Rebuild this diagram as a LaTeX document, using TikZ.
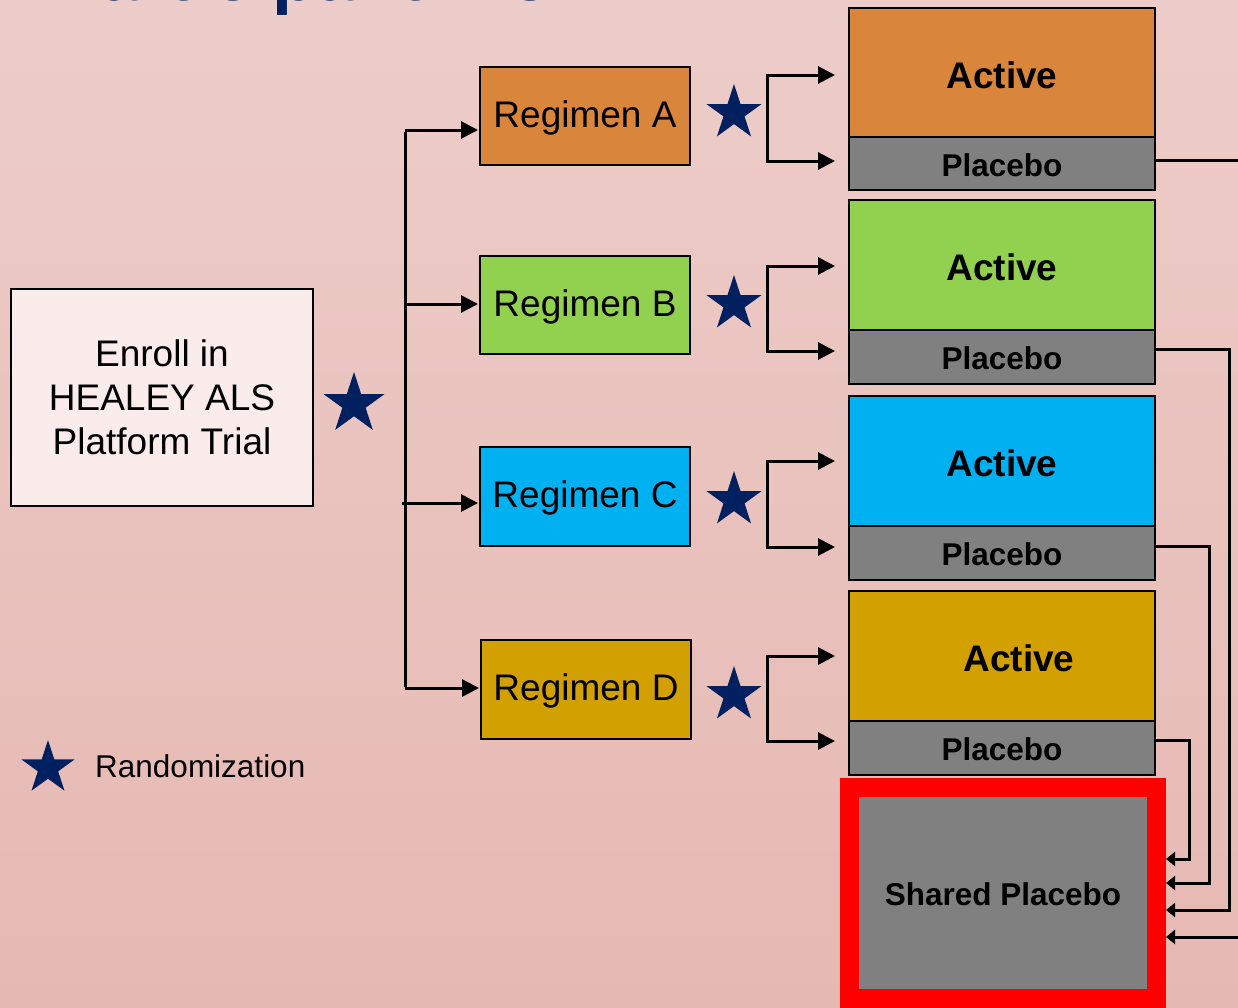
\documentclass[tikz,border=0pt]{standalone}
\usepackage{fontspec}
\setmainfont{Liberation Sans}
\usetikzlibrary{arrows.meta,shapes.geometric}
\definecolor{bgTop}{RGB}{237,205,201}
\definecolor{bgBot}{RGB}{230,184,178}
\definecolor{navy}{RGB}{0,32,96}
\definecolor{orangeA}{RGB}{217,133,59}
\definecolor{greenB}{RGB}{146,208,80}
\definecolor{blueC}{RGB}{0,176,240}
\definecolor{goldD}{RGB}{210,160,0}
\definecolor{grayP}{RGB}{128,128,128}
\definecolor{enrollFill}{RGB}{249,236,235}
\definecolor{redF}{RGB}{255,0,0}
\begin{document}
\begin{tikzpicture}[x=1pt,y=-1pt,
  box/.style={draw=black, line width=2pt, inner sep=0pt, outer sep=0pt, text=black},
  regbox/.style={box, minimum width=210pt, minimum height=98pt, font=\fontsize{37}{44}\selectfont, text height=22pt, text depth=0pt},
  actbox/.style={box, minimum width=306pt, minimum height=130pt, font=\bfseries\fontsize{37}{44}\selectfont, text height=31.5pt, text depth=0pt},
  plcbox/.style={box, fill=grayP, minimum width=306pt, minimum height=54pt, font=\bfseries\fontsize{31.5}{38}\selectfont, text height=25.5pt, text depth=0pt},
  randstar/.style={star, star points=5, star point ratio=2.618, fill=navy, draw=none, inner sep=0pt, minimum size=#1},
  conn/.style={line width=3pt, black},
  arr/.style={conn, -{Triangle[length=17pt,width=17pt]}},
  arrboth/.style={conn, {Triangle[length=17pt,width=17pt]}-{Triangle[length=17pt,width=17pt]}},
  arrs/.style={conn, -{Triangle[length=9pt,width=14pt]}}
]
\useasboundingbox (0,0) rectangle (1238,1007);
\clip (0,0) rectangle (1238,1007);
\fill[top color=bgTop, bottom color=bgBot] (0,0) rectangle (1238,1007);

% title (cut off at top, as in the reference)
\node[anchor=base west, inner sep=0pt, text=navy, font=\bfseries\fontsize{72}{80}\selectfont] (title) at (52,0.5) {Participant Flow};

% enroll
\node[box, fill=enrollFill, minimum width=302pt, minimum height=217pt, align=center, font=\fontsize{37}{44}\selectfont] (enroll) at (162,397.5) {Enroll in\\HEALEY ALS\\Platform Trial};
\node[randstar=64pt] (s0) at (354,404) {};

% regimens
\node[regbox, fill=orangeA] (regA) at (585,116) {Regimen A};
\node[regbox, fill=greenB] (regB) at (585,305) {Regimen B};
\node[regbox, fill=blueC, minimum height=99pt] (regC) at (585,496.5) {Regimen C};
\node[regbox, fill=goldD, minimum height=99pt] (regD) at (586,689.5) {Regimen D};

% stars
\node[randstar=58pt] (sA) at (734,113) {};
\node[randstar=58pt] (sB) at (734,304) {};
\node[randstar=58pt] (sC) at (734,500) {};
\node[randstar=58pt] (sD) at (734,695) {};

% active / placebo
\node[actbox, fill=orangeA, minimum height=129pt] (actA) at (1002,72.5) {Active};
\node[plcbox, minimum height=53pt] (plcA) at (1002,163.5) {Placebo};
\node[actbox, fill=greenB] (actB) at (1002,265) {Active};
\node[plcbox] (plcB) at (1002,357) {Placebo};
\node[actbox, fill=blueC] (actC) at (1002,461) {Active};
\node[plcbox] (plcC) at (1002,553) {Placebo};
\node[actbox, fill=goldD] (actD) at (1002,656) {\hspace*{34pt}Active};
\node[plcbox] (plcD) at (1002,748) {Placebo};

% shared placebo
\node[draw=redF, line width=19pt, fill=grayP, inner sep=0pt, outer sep=9.5pt, minimum width=307pt, minimum height=211pt, text=black, font=\bfseries\fontsize{31.5}{38}\selectfont, text height=25.5pt, text depth=0pt] (shared) at (1003,892.5) {Shared Placebo};

% legend
\node[randstar=56pt] (sL) at (48,768) {};
\node[anchor=west, inner sep=0pt, font=\fontsize{31.5}{38}\selectfont] (legend) at (95,766) {Randomization};

% trunk and branches
\coordinate (brA) at (405,130);
\coordinate (brB) at (405,304);
\coordinate (brC) at (405,503);
\coordinate (brD) at (405,688);
\draw[conn] ([yshift=-1.5pt]brA) -- ([yshift=1.5pt]brD);
\draw[arr] (brA) -- ([xshift=-2pt]regA.west |- brA);
\draw[arr] (brB) -- ([xshift=-2pt]regB.west |- brB);
\draw[arr] ([xshift=-3pt]brC) -- ([xshift=-2pt]regC.west |- brC);
\draw[arr] (brD) -- ([xshift=-2pt]regD.west |- brD);

% brackets to active / placebo
\coordinate (aT) at (835,75);  \coordinate (aB) at (835,161);
\coordinate (bT) at (835,266); \coordinate (bB) at (835,351);
\coordinate (cT) at (835,461); \coordinate (cB) at (835,547);
\coordinate (dT) at (835,656); \coordinate (dB) at (835,741);
\draw[arrboth] (aT) -- (767,75) -- (767,161) -- (aB);
\draw[arrboth] (bT) -- (767,266) -- (767,351) -- (bB);
\draw[arrboth] (cT) -- (767,461) -- (767,547) -- (cB);
\draw[arrboth] (dT) -- (767,656) -- (767,741) -- (dB);

% placebo to shared placebo
\coordinate (yA1) at (0,160);  \coordinate (yA2) at (0,937);
\coordinate (yB1) at (0,349);  \coordinate (yB2) at (0,910);
\coordinate (yC1) at (0,546);  \coordinate (yC2) at (0,883);
\coordinate (yD1) at (0,740);  \coordinate (yD2) at (0,859);
\draw[arrs] (plcA.east |- yA1) -- (1260,160) -- (1260,937) -- (shared.east |- yA2);
\draw[arrs] (plcB.east |- yB1) -- (1229,349) -- (1229,910) -- (shared.east |- yB2);
\draw[arrs] (plcC.east |- yC1) -- (1209,546) -- (1209,883) -- (shared.east |- yC2);
\draw[arrs] (plcD.east |- yD1) -- (1189,740) -- (1189,859) -- (shared.east |- yD2);
\end{tikzpicture}
\end{document}
